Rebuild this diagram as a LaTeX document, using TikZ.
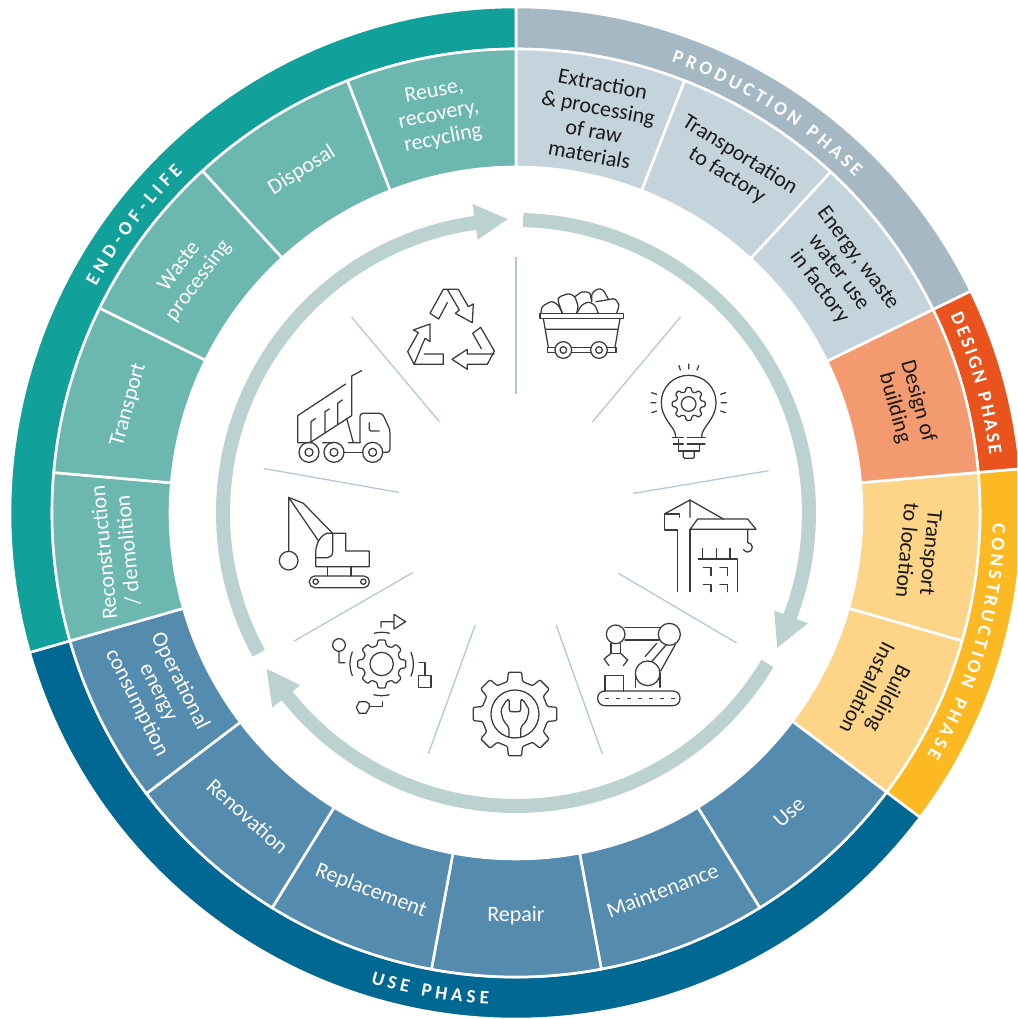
\documentclass[tikz,border=0pt]{standalone}
\usepackage{fontspec}
\usetikzlibrary{calc,decorations.text}
\setmainfont{Carlito}
\newfontfamily\bandfont{Carlito}
\definecolor{tealband}{HTML}{12A19A}
\definecolor{tealcell}{HTML}{6CB7AF}
\definecolor{greyband}{HTML}{A5B8C4}
\definecolor{greycell}{HTML}{C5D4DC}
\definecolor{orgband}{HTML}{EA521E}
\definecolor{orgcell}{HTML}{F49A70}
\definecolor{yelband}{HTML}{FDB924}
\definecolor{yelcell}{HTML}{FED488}
\definecolor{bluband}{HTML}{006892}
\definecolor{blucell}{HTML}{548BAE}
\definecolor{ringcol}{HTML}{BBD2D0}
\definecolor{divcol}{HTML}{B3C8D8}
\definecolor{iconcol}{HTML}{3A3A3A}
\definecolor{inkcol}{HTML}{1A1A1A}
\newcommand{\ringcell}[5]{% a1 a2 r1 r2 colour
  \filldraw[#5,draw=white,line width=2.6pt,line join=miter]
    (90-#1:#4) arc[start angle=90-#1,end angle=90-#2,radius=#4]
    -- (90-#2:#3) arc[start angle=90-#2,end angle=90-#1,radius=#3] -- cycle;}
\newcommand{\ringarrow}[4]{% shaft start, base angle, tip angle, name
  \fill[ringcol] (90-#1:300) arc[start angle=90-#1,end angle=90-#2,radius=300]
    -- (90-#2:312) -- (90-#3:294) -- (90-#2:276) -- (90-#2:286)
    arc[start angle=90-#2,end angle=90-#1,radius=286] -- cycle;}
\newcommand{\bandlabel}[4]{% a1 a2 R text
  \path[decorate,decoration={text along path,text align={fit to path},
    text={|\fontsize{19}{19}\selectfont\bfseries\color{white}|#4}}]
    (90-#1:#3) arc[start angle=90-#1,end angle=90-#2,radius=#3];}
\newcommand{\gearshape}[7]{% cx cy router rroot teeth w1 w2
  \draw[rounded corners=1.2pt] \foreach \i in {1,...,#5}{
     \ifnum\i=1 ($(#1,#2)+({(\i-1)*360/#5-90-#6}:#4)$) \else -- ($(#1,#2)+({(\i-1)*360/#5-90-#6}:#4)$) \fi
     -- ($(#1,#2)+({(\i-1)*360/#5-90-#7}:#3)$)
     -- ($(#1,#2)+({(\i-1)*360/#5-90+#7}:#3)$)
     -- ($(#1,#2)+({(\i-1)*360/#5-90+#6}:#4)$)
  } -- cycle;}
\tikzset{
  celltext/.style={font=\fontsize{22}{24}\selectfont,align=center,inner sep=0pt},
  darktext/.style={celltext,text=inkcol},
  lighttext/.style={celltext,text=white},
  divider/.style={divcol,line width=1.3pt},
  iconpen/.style={iconcol,line width=1.25pt,line join=round,line cap=round},
  zoomed/.style={x=0.33333pt,y=-0.33333pt,iconpen}
}
\begin{document}
\begin{tikzpicture}[x=1pt,y=1pt]
\useasboundingbox (-516,-506) rectangle (501,513);
\fill[white] (-516,-506) rectangle (501,513);
\clip (-516,-506) rectangle (501,513);
% outer bands
\ringcell{0}{64}{464}{506}{greyband}
\ringcell{64}{85}{464}{506}{orgband}
\ringcell{85}{127}{464}{506}{yelband}
\ringcell{127}{254}{464}{506}{bluband}
\ringcell{254}{360}{464}{506}{tealband}
% cells
\ringcell{0}{21.3}{346}{464}{greycell}
\ringcell{21.3}{42.7}{346}{464}{greycell}
\ringcell{42.7}{64}{346}{464}{greycell}
\ringcell{64}{85}{346}{464}{orgcell}
\ringcell{85}{106}{346}{464}{yelcell}
\ringcell{106}{127}{346}{464}{yelcell}
\ringcell{127}{148.3}{346}{464}{blucell}
\ringcell{148.3}{169.4}{346}{464}{blucell}
\ringcell{169.4}{190.5}{346}{464}{blucell}
\ringcell{190.5}{211.7}{346}{464}{blucell}
\ringcell{211.7}{232.8}{346}{464}{blucell}
\ringcell{232.8}{254}{346}{464}{blucell}
\ringcell{254}{275}{346}{464}{tealcell}
\ringcell{275}{296.2}{346}{464}{tealcell}
\ringcell{296.2}{317.5}{346}{464}{tealcell}
\ringcell{317.5}{338.7}{346}{464}{tealcell}
\ringcell{338.7}{360}{346}{464}{tealcell}
% band labels
\bandlabel{19}{45.3}{477}{PRODUCTION PHASE}
\bandlabel{65.6}{83}{477}{DESIGN PHASE}
\bandlabel{91.3}{120.5}{477}{CONSTRUCTION PHASE}
\bandlabel{298.3}{315.7}{477}{END-OF-LIFE}
\bandlabel{197.2}{183.2}{492}{USE PHASE}
% cell labels
\node[darktext,rotate=-10.6] (t1) at (90-11.5:402) {Extraction\\\& processing\\of raw\\materials};
\node[darktext,rotate=-32] (t2) at (90-32:410) {Transportation\\to factory};
\node[darktext,rotate=-53.3] (t3) at (90-53.3:402) {Energy, waste\\water use\\in factory};
\node[darktext,rotate=-74.5] (t4) at (90-74.5:405) {Design of\\building};
\node[darktext,rotate=-95.5] (t5) at (90-95.5:405) {Transport\\to location};
\node[darktext,rotate=-116.5] (t6) at (90-116.5:405) {Building\\Installation};
\node[lighttext,rotate=42.4] (t7) at (90-137.6:405) {Use};
\node[lighttext,rotate=21] (t8) at (90-158.8:405) {Maintenance};
\node[lighttext,rotate=0] (t9) at (90-180:403) {Repair};
\node[lighttext,rotate=-21] (t10) at (90-201:405) {Replacement};
\node[lighttext,rotate=-42] (t11) at (90-221.5:405) {Renovation};
\node[lighttext,rotate=-63.4] (t12) at (90-243.4:400) {Operational\\energy\\consumption};
\node[lighttext,rotate=95.5] (t13) at (90-264.5:402) {Reconstruction\\/ demolition};
\node[lighttext,rotate=74.4] (t14) at (90-285.6:402) {Transport};
\node[lighttext,rotate=53.3] (t15) at (90-306.2:405) {Waste\\processing};
\node[lighttext,rotate=32] (t16) at (90-328:404) {Disposal};
\node[lighttext,rotate=11] (t17) at (90-349:405) {Reuse,\\recovery,\\recycling};
% ring arrows
\ringarrow{1.4}{110.7}{117.3}{a1}
\ringarrow{120.9}{231.4}{238}{a2}
\ringarrow{241.4}{352}{358.4}{a3}
% radial dividers
\foreach \a in {0,40,80.5,120.5,160.3,200,240,280,320}
  \draw[divider] (90-\a:119) -- (90-\a:256);
% ---- icons ----
% recycle and truck (crop at 250,250)
\begin{scope}[shift={(-266,263)},zoomed]
\draw (592,158)--(566,207)--(540,190)--(580,118)--(625,118)--(655,170)--(670,162)--(667,218)--(616,190)--(628,180)--(592,118);
\draw (694,296)--(668,250)--(692,232)--(733,303)--(712,343)--(652,343)--(652,358)--(606,328)--(652,298)--(652,312)--(733,312);
\draw (523,312)--(580,312)--(580,343)--(492,343)--(473,305)--(505,248)--(490,240)--(540,222)--(540,275)--(525,265)--(492,343);
\draw (287,402)--(143,497)--(143,578)--(180,578)--(305,497)--(305,378)--(335,362);
\draw (183,578)--(183,515)--(197,505) (225,550)--(225,485)--(238,477) (263,522)--(263,460)--(277,450);
\draw (290,505)--(310,578) (218,578)--(250,578) (295,578)--(330,578);
\draw[rounded corners=3pt] (330,578)--(330,490)--(397,490)--(420,540)--(420,607)--(400,607);
\draw[rounded corners=1.5pt] (358,518)--(358,543)--(388,543);
\foreach \c in {177,252,368}{\draw (\c,607) circle[radius=30]; \draw (\c,607) circle[radius=12];}
\draw (282,607)--(338,607);
\end{scope}
% mine cart and bulb (crop at 510,250)
\begin{scope}[shift={(-6,263)},zoomed]
\begin{scope}[rounded corners=2.5pt]
\draw (93,190)--(95,170)--(125,153)--(145,165)--(157,190);
\draw (157,190)--(143,150)--(148,140)--(178,130)--(195,140)--(205,170)--(200,190);
\draw (195,140)--(215,125)--(240,127)--(245,155);
\draw (200,190)--(215,165)--(235,155)--(255,165)--(265,190);
\draw (245,155)--(245,130)--(265,115)--(280,120)--(295,147);
\draw (258,155)--(290,150)--(315,145)--(328,165)--(320,190);
\end{scope}
\draw (90,190) rectangle (341,206);
\draw (100,206)--(115,292) (330,206)--(315,292) (108,238)--(322,238);
\draw (112,292) rectangle (318,307);
\foreach \c in {160,267}{\fill[white] (\c,300) circle[radius=25]; \draw (\c,300) circle[radius=25]; \draw (\c,300) circle[radius=10];}
\draw (497,560) .. controls (497,530) and (454,510) .. (454,457) .. controls (454,412) and (490,376) .. (536,376) .. controls (582,376) and (618,412) .. (618,457) .. controls (618,510) and (575,530) .. (575,560);
\draw (487,562)--(520,562) (532,562)--(585,562) (490,582)--(520,582) (532,582)--(585,582);
\draw (505,568)--(505,603)--(568,603)--(568,585);
\draw[rounded corners=1.5pt] (520,605)--(520,625)--(553,625)--(553,605);
\gearshape{536}{462}{50}{38}{8}{14}{9}
\draw (536,462) circle[radius=22];
\draw (507,347)--(511,360) (536,342)--(536,357) (566,347)--(561,360);
\draw (425,428)--(440,433) (423,458)--(438,458) (425,488)--(440,483);
\draw (632,433)--(647,428) (633,458)--(650,458) (632,483)--(647,488);
\end{scope}
% crane and robot (crop at 510,490)
\begin{scope}[shift={(-6,23)},zoomed]
\draw (503,305)--(503,120)--(463,120)--(463,72)--(508,72)--(508,82);
\draw (540,305)--(540,118);
\draw (463,72)--(540,30)--(640,87) (540,30)--(540,82);
\draw (540,118)--(563,87)--(713,87)--(738,118)--cycle;
\draw (713,118)--(713,158) arc[start angle=-90,end angle=150,radius=14];
\draw (565,207)--(683,207)--(683,305);
\draw (578,175)--(578,207) (620,175)--(620,207) (660,175)--(660,207);
\draw (580,233)--(603,233)--(603,257) (630,233)--(653,233)--(653,257);
\draw (580,283)--(603,283)--(603,305) (630,283)--(653,283)--(653,305);
\draw (317,433) circle[radius=28] (478,433) circle[radius=33] (413,550) circle[radius=37];
\draw (345,412)--(450,412) (345,450)--(447,450);
\draw (303,460)--(303,490)--(332,490)--(332,460);
\draw (303,490)--(282,507)--(297,527) (332,490)--(353,510)--(340,527);
\draw (440,460)--(405,500) (470,463)--(425,515) (497,462)--(452,543);
\draw[rounded corners=7pt] (263,603) rectangle (510,647);
\draw[line cap=butt,dash pattern=on 3.5pt off 7.5pt] (285,625)--(495,625);
\draw (285,603)--(285,557)--(340,557)--(340,603);
\draw (377,550)--(377,592) (450,550)--(450,592);
\end{scope}
% demolition crane, process gear, wrench gear (crop at 250,490)
\begin{scope}[shift={(-266,23)},zoomed]
\draw (116,212) circle[radius=28] (116,184)--(116,22)--(205,152);
\draw (116,22)--(160,40)--(248,130);
\draw (197,230)--(197,190) .. controls (197,170) and (205,140) .. (230,130) -- (287,130)--(287,183)--(358,183)--(358,230)--cycle;
\draw (248,130)--(248,185) .. controls (248,197) and (240,203) .. (232,203) -- (197,203);
\draw (233,230)--(233,258) (303,230)--(303,258);
\draw[rounded corners=5.5pt] (178,258) rectangle (358,293);
\draw (197,275) circle[radius=8] (340,275) circle[radius=8];
\gearshape{395}{522}{73}{57}{8}{14}{9}
\draw (395,522) circle[radius=35];
\draw (372.5,429.7) arc[start angle=-104,end angle=-76,radius=95];
\draw (483,487) arc[start angle=-22,end angle=22,radius=95];
\draw (417.5,614.3) arc[start angle=76,end angle=104,radius=95];
\draw (307,557) arc[start angle=158,end angle=202,radius=95];
\draw (267,465) circle[radius=19] (267,484)--(267,518)--(285,518);
\draw (506,557) rectangle (543,593) (507,518)--(525,518)--(525,557);
\draw (358,642)--(348,635)--(328,635)--(319,652)--(328,670)--(348,670)--(358,652)--cycle;
\draw (358,650)--(397,650)--(397,635);
\draw (432,373)--(467,395)--(432,417)--cycle (432,395)--(393,395)--(393,412);
\gearshape{795}{672}{127}{100}{8}{13}{9}
\draw (795,672) circle[radius=72];
\draw[rounded corners=2pt] (777,742)--(777,712)--(760,692)--(752,660)--(770,630)--(778,628)--(778,665)--(812,665)--(812,628)--(820,630)--(838,660)--(830,692)--(812,712)--(812,742);
\end{scope}
\end{tikzpicture}
\end{document}
